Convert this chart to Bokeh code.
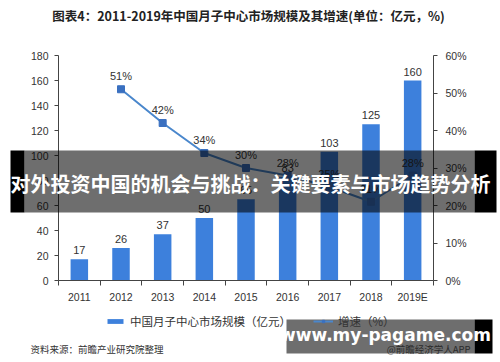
from bokeh.plotting import figure
from bokeh.models import (Range1d, LinearAxis, ColumnDataSource, LabelSet, Label,
                          BoxAnnotation, Legend, LegendItem, FixedTicker, PrintfTickFormatter)
from bokeh.core.properties import value
from bokeh.embed import file_html
from bokeh.resources import INLINE

# ---------------- data ----------------
years = ["2011", "2012", "2013", "2014", "2015", "2016", "2017", "2018", "2019E"]
market_size = [17, 26, 37, 50, 65, 83, 103, 125, 160]          # 亿元
growth_years = ["2012", "2013", "2014", "2015", "2016", "2017", "2018", "2019E"]
growth_rate = [51, 42, 34, 30, 28, 25, 21, 28]                  # %
left_ticks = [0, 20, 40, 60, 80, 100, 120, 140, 160, 180]
right_ticks = [0, 10, 20, 30, 40, 50, 60]

title_text = "图表4：2011-2019年中国月子中心市场规模及其增速(单位：亿元，%)"
bar_legend = "中国月子中心市场规模（亿元）"
line_legend = "增速（%）"
source_text = "资料来源：前瞻产业研究院整理"
credit_text = "@前瞻经济学人APP"
banner_text = "对外投资中国的机会与挑战：关键要素与市场趋势分析"
url_text = "www.my-pagame.com"

CJK = "Noto Sans CJK SC"
NUM = "Liberation Sans"

W, H = 500, 362
# plot area in page pixels
PL, PR, PT, PB = 58, 433, 55, 280
n = len(years)
ymax, pmax = left_ticks[-1], right_ticks[-1]

# category positions on a numeric scale
xpos = list(range(n))
idx = {y: i for i, y in enumerate(years)}
gx = [idx[y] for y in growth_years]

# ranges chosen so that the frame fills the whole canvas and the plot area lands at PL..PR, PT..PB
ux = (PR - PL) / n
x0 = -0.5 - PL / ux
x1 = x0 + W / ux
uy = (PB - PT) / ymax
y0 = -(H - PB) / uy
y1 = ymax + PT / uy
k = pmax / ymax


def sx(X):
    return X


def sy(Y):
    return H - Y


p = figure(width=W, height=H, output_backend="svg", toolbar_location=None,
           x_range=Range1d(x0, x1), y_range=Range1d(y0, y1), min_border=0)
p.outline_line_color = None
p.grid.grid_line_color = None
p.background_fill_color = "white"
p.border_fill_color = "white"
p.extra_y_ranges = {"pct": Range1d(y0 * k, y1 * k)}

bar_src = ColumnDataSource(dict(x=xpos, y=market_size, t=[str(v) for v in market_size]))
line_src = ColumnDataSource(dict(x=gx, y=growth_rate, t=[f"{v}%" for v in growth_rate]))

bars = p.vbar(x="x", top="y", width=0.42, source=bar_src, color="#3d80dc", line_color=None)
ln = p.line(x="x", y="y", source=line_src, y_range_name="pct", line_color="#4a87cc", line_width=2)
mk = p.scatter(x="x", y="y", source=line_src, y_range_name="pct", marker="square", size=7,
               fill_color="#3a70c0", line_color="#3a70c0")

# axes (fixed inside the full-canvas frame)
axis_col = "#444444"
lab_col = "#333333"


def style(ax):
    ax.axis_line_color = axis_col
    ax.major_tick_line_color = axis_col
    ax.minor_tick_line_color = None
    ax.major_label_text_font = NUM
    ax.major_label_text_font_size = "10.5px"
    ax.major_label_text_color = lab_col


xa = p.xaxis[0]
style(xa)
xa.ticker = FixedTicker(ticks=xpos, minor_ticks=[i - 0.5 for i in range(n + 1)])
xa.major_label_overrides = {i: y for i, y in enumerate(years)}
xa.fixed_location = 0
xa.bounds = (-0.5, n - 0.5)
xa.major_tick_line_color = None
xa.major_tick_in = 0
xa.major_tick_out = 0
xa.minor_tick_line_color = axis_col
xa.minor_tick_in = 0
xa.minor_tick_out = 5
xa.major_label_standoff = 5

yl = p.yaxis[0]
style(yl)
yl.ticker = FixedTicker(ticks=left_ticks)
yl.fixed_location = -0.5
yl.bounds = (0, ymax)
yl.major_tick_in = 0
yl.major_tick_out = 4
yl.major_label_standoff = 6

yr = LinearAxis(y_range_name="pct", ticker=FixedTicker(ticks=right_ticks),
                formatter=PrintfTickFormatter(format="%d%%"))
style(yr)
yr.fixed_location = n - 0.5
yr.bounds = (0, pmax)
yr.major_tick_in = 0
yr.major_tick_out = 4
yr.major_label_standoff = 8
p.add_layout(yr, "right")

# data labels
p.add_layout(LabelSet(x="x", y="y", text="t", source=bar_src, y_offset=5, text_align="center",
                      text_baseline="bottom", text_font=value(NUM), text_font_size="11px",
                      text_color=lab_col))
p.add_layout(LabelSet(x="x", y="y", text="t", source=line_src, y_range_name="pct", y_offset=7,
                      text_align="center", text_baseline="bottom", text_font=value(NUM),
                      text_font_size="11px", text_color=lab_col))

# legend
legend = Legend(items=[LegendItem(label=bar_legend, renderers=[bars]),
                       LegendItem(label=line_legend, renderers=[ln, mk])],
                orientation="horizontal", location=(sx(105), sy(329)),
                glyph_width=20, glyph_height=6, label_height=14, label_standoff=5, spacing=22,
                padding=0, margin=0, border_line_color=None, background_fill_alpha=0,
                label_text_font=CJK, label_text_font_size="11.5px", label_text_color=lab_col)
p.add_layout(legend, "center")

# title and notes
p.add_layout(Label(x=sx(248), y=sy(15), x_units="screen", y_units="screen", text=title_text,
                   text_align="center", text_baseline="middle", text_font=CJK,
                   text_font_size="12.5px", text_font_style="bold", text_color="#222222"))
p.add_layout(Label(x=sx(30), y=sy(348), x_units="screen", y_units="screen", text=source_text,
                   text_align="left", text_baseline="middle", text_font=CJK,
                   text_font_size="9.5px", text_color=lab_col))
p.add_layout(Label(x=sx(470), y=sy(348), x_units="screen", y_units="screen", text=credit_text,
                   text_align="right", text_baseline="middle", text_font=CJK,
                   text_font_size="9.5px", text_color="#666666"))


def box(xa_, xb_, ya_, yb_, color, alpha):
    return BoxAnnotation(left=sx(xa_), right=sx(xb_), top=sy(ya_), bottom=sy(yb_),
                         left_units="screen", right_units="screen", top_units="screen",
                         bottom_units="screen", fill_color=color, fill_alpha=alpha,
                         line_color=None, level="overlay")


# overlay banner across the middle
p.add_layout(box(10, 24, 150, 212, "black", 1.0))
p.add_layout(box(474, 496, 150, 212, "black", 1.0))
p.add_layout(box(24, 474, 150, 212, "black", 0.57))
p.add_layout(Label(x=sx(250), y=sy(183), x_units="screen", y_units="screen", text=banner_text,
                   text_align="center", text_baseline="middle", text_font=CJK,
                   text_font_size="20px", text_font_style="bold", text_color="white",
                   level="overlay"))

# url banner
p.add_layout(box(286, 474, 319, 353, "black", 0.57))
p.add_layout(box(474, 492, 319, 353, "black", 1.0))
p.add_layout(Label(x=sx(385), y=sy(334), x_units="screen", y_units="screen", text=url_text,
                   text_align="center", text_baseline="middle", text_font="DejaVu Sans",
                   text_font_size="17px", text_font_style="bold", text_color="white",
                   level="overlay"))

open("out.html", "w").write(file_html(p, INLINE))
